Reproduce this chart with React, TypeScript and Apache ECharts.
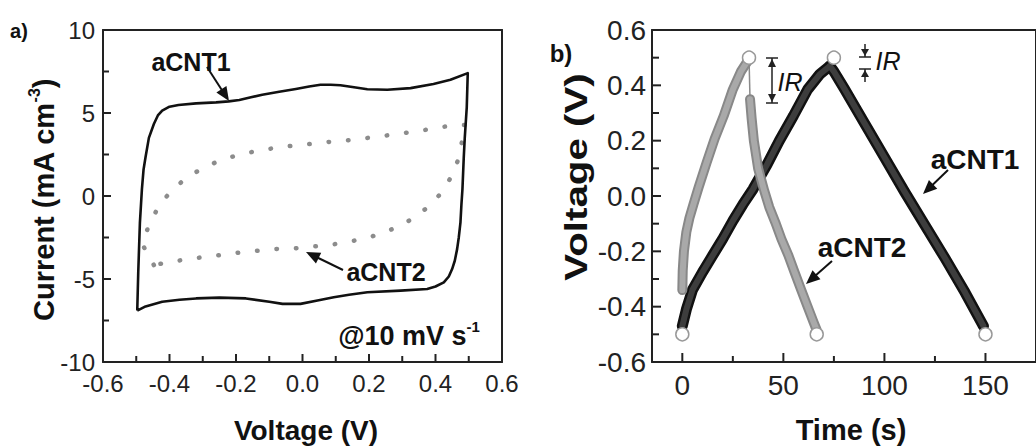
import React, { useEffect, useRef } from "react";
import * as echarts from "echarts";

// ---------- Panel a: cyclic voltammetry (Voltage V, Current mA cm^-3) ----------
const cv1Voltage = [
  -0.497, -0.494, -0.489, -0.483, -0.478, -0.472, -0.462, -0.447, -0.435, -0.422, -0.4, -0.373,
  -0.32, -0.26, -0.222, -0.19, -0.155, -0.121, -0.07, -0.02, 0.02, 0.054, 0.085, 0.114, 0.155,
  0.195, 0.255, 0.325, 0.394, 0.445, 0.497,
  0.494, 0.488, 0.485, 0.481, 0.478, 0.475, 0.47, 0.465, 0.458, 0.45, 0.44, 0.425, 0.4, 0.375,
  0.295, 0.195, 0.14, 0.094, 0.045, -0.006, -0.06, -0.1, -0.17, -0.25, -0.32, -0.37, -0.422,
  -0.472, -0.497,
];
const cv1Current = [
  -6.9, -4.6, -1.6, 0.4, 1.6, 2.35, 3.5, 4.34, 4.85, 5.14, 5.38, 5.48,
  5.58, 5.64, 5.7, 5.78, 5.95, 6.1, 6.28, 6.45, 6.6, 6.7, 6.7, 6.67, 6.55,
  6.43, 6.4, 6.5, 6.75, 7.0, 7.4,
  5.34, 3.5, 2.33, 0.4, -0.5, -1.6, -2.5, -3.2, -3.9, -4.4, -4.85, -5.2, -5.45, -5.6,
  -5.7, -5.8, -5.95, -6.1, -6.3, -6.5, -6.5, -6.37, -6.17, -6.12, -6.17, -6.25, -6.37,
  -6.65, -6.9,
];
const cv2Voltage = [
  -0.447, -0.482, -0.462, -0.435, -0.4, -0.354, -0.3, -0.244, -0.184, -0.121, -0.059, 0.002,
  0.062, 0.124, 0.184, 0.247, 0.308, 0.368, 0.428, 0.49,
  0.468, 0.445, 0.415, 0.37, 0.317, 0.26, 0.201, 0.142, 0.082, 0.039, -0.021, -0.081, -0.141,
  -0.2, -0.264, -0.325, -0.385, -0.447,
];
const cv2Current = [
  -4.16, -2.9, -1.75, -0.72, 0.2, 1.02, 1.69, 2.17, 2.53, 2.77, 2.97, 3.09,
  3.23, 3.33, 3.47, 3.63, 3.8, 3.98, 4.18, 4.28,
  2.17, 1.08, 0.12, -0.78, -1.53, -2.09, -2.49, -2.75, -2.95, -3.03, -3.15, -3.19, -3.31,
  -3.43, -3.6, -3.75, -3.93, -4.16,
];

// ---------- Panel b: galvanostatic charge / discharge (Time s, Voltage V) ----------
const gcd1ChargeTime = [0, 2, 5, 10, 15, 20, 25, 30, 35, 42, 48, 55, 62, 68, 73];
const gcd1ChargeVolt = [-0.47, -0.41, -0.34, -0.275, -0.215, -0.155, -0.09, -0.03, 0.025, 0.115, 0.2, 0.29, 0.385, 0.44, 0.47];
const gcd1DischargeTime = [73, 75, 80, 90, 100, 110, 120, 130, 140, 149];
const gcd1DischargeVolt = [0.47, 0.45, 0.39, 0.265, 0.14, 0.015, -0.105, -0.225, -0.35, -0.47];

const gcd2ChargeTime = [0, 0.2, 0.8, 2, 3.5, 5.5, 8, 12, 16, 20.5, 25, 29, 32.5];
const gcd2ChargeVolt = [-0.34, -0.27, -0.2, -0.13, -0.08, -0.03, 0.03, 0.12, 0.207, 0.29, 0.385, 0.45, 0.49];
const gcd2IrTime = [33, 33.5];
const gcd2IrVolt = [0.5, 0.35];
const gcd2DischargeTime = [33.5, 34.3, 35.4, 37.5, 40.5, 43, 46, 49, 52.5, 55.5, 58.7, 62, 65, 66.5];
const gcd2DischargeVolt = [0.35, 0.28, 0.2, 0.1, 0.02, -0.04, -0.095, -0.155, -0.215, -0.275, -0.337, -0.4, -0.457, -0.485];

const markerTime = [0, 33, 66.5, 75, 150];
const markerVolt = [-0.5, 0.5, -0.5, 0.5, -0.5];

// ---------- Tick values ----------
const voltageMajorTicks = [-0.6, -0.4, -0.2, 0, 0.2, 0.4, 0.6];
const voltageMinorTicks = [-0.5, -0.3, -0.1, 0.1, 0.3, 0.5];
const currentMajorTicks = [-10, -5, 0, 5, 10];
const currentMinorTicks = [-7.5, -2.5, 2.5, 7.5];
const timeMajorTicks = [0, 50, 100, 150];
const timeMinorTicks = [25, 75, 125];

const pairs = (xs: number[], ys: number[]) => xs.map((x, i) => [x, ys[i]]);

const FONT = "'Liberation Sans', Arial, sans-serif";
const AXIS_COLOR = "#222";

function arrow(x1: number, y1: number, x2: number, y2: number, lw = 2, hl = 14, hw = 12) {
  const dx = x2 - x1, dy = y2 - y1;
  const L = Math.hypot(dx, dy);
  const ux = dx / L, uy = dy / L;
  const bx = x2 - ux * hl, by = y2 - uy * hl;
  const px = -uy, py = ux;
  return [
    { type: "line", shape: { x1, y1, x2: bx + ux * 2, y2: by + uy * 2 }, style: { stroke: "#111", lineWidth: lw }, silent: true },
    {
      type: "polygon",
      shape: { points: [[x2, y2], [bx + (px * hw) / 2, by + (py * hw) / 2], [bx - (px * hw) / 2, by - (py * hw) / 2]] },
      style: { fill: "#111" },
      silent: true,
    },
  ];
}

function irMarker(x: number, yTop: number, yBot: number, outward: boolean) {
  const els: any[] = [];
  const cap = 6;
  const st = { stroke: "#222", lineWidth: 1.5 };
  els.push({ type: "line", shape: { x1: x - cap, y1: yTop, x2: x + cap, y2: yTop }, style: st });
  els.push({ type: "line", shape: { x1: x - cap, y1: yBot, x2: x + cap, y2: yBot }, style: st });
  if (outward) {
    els.push({ type: "line", shape: { x1: x, y1: yTop, x2: x, y2: yBot }, style: st });
    els.push({ type: "polygon", shape: { points: [[x, yTop + 1], [x - 4, yTop + 9], [x + 4, yTop + 9]] }, style: { fill: "#222" } });
    els.push({ type: "polygon", shape: { points: [[x, yBot - 1], [x - 4, yBot - 9], [x + 4, yBot - 9]] }, style: { fill: "#222" } });
  } else {
    els.push({ type: "line", shape: { x1: x, y1: yTop - 13, x2: x, y2: yTop }, style: st });
    els.push({ type: "line", shape: { x1: x, y1: yBot, x2: x, y2: yBot + 13 }, style: st });
    els.push({ type: "polygon", shape: { points: [[x, yTop - 1], [x - 4, yTop - 8], [x + 4, yTop - 8]] }, style: { fill: "#222" } });
    els.push({ type: "polygon", shape: { points: [[x, yBot + 1], [x - 4, yBot + 8], [x + 4, yBot + 8]] }, style: { fill: "#222" } });
  }
  return els;
}

function text(x: number, y: number, t: string, size: number, extra: any = {}, styleExtra: any = {}) {
  return {
    type: "text",
    x,
    y,
    silent: true,
    ...extra,
    style: {
      text: t,
      fontFamily: FONT,
      fontSize: size,
      fontWeight: "bold",
      fill: "#111",
      align: "center",
      verticalAlign: "middle",
      ...styleExtra,
    },
  };
}

const fmt1 = (v: number) => (Math.abs(v) < 1e-9 ? "0.0" : v.toFixed(1));

const lineOnly = (position: string, gridIndex: number, min: number, max: number) => ({
  type: "value",
  gridIndex,
  position,
  min,
  max,
  axisLine: { show: true, onZero: false, lineStyle: { color: AXIS_COLOR, width: 2 } },
  axisTick: { show: false },
  axisLabel: { show: false },
  splitLine: { show: false },
});

type TickSet = { values: number[]; len: number };

// All inward ticks of one panel, drawn as one custom-series group anchored at a single
// in-range data point; every tick position comes from api.coord (the axis scales).
function panelTicks(
  xi: number,
  yi: number,
  anchor: number[],
  xSets: TickSet[],
  ySets: TickSet[],
  xMin: number,
  yMin: number
) {
  return {
    type: "custom",
    xAxisIndex: xi,
    yAxisIndex: yi,
    z: 20,
    data: [anchor],
    renderItem: (_p: any, api: any) => {
      const children: any[] = [];
      xSets.forEach((s) =>
        s.values.forEach((v) => {
          const p = api.coord([v, yMin]);
          children.push({ type: "rect", shape: { x: p[0] - 1, y: p[1] - s.len, width: 2, height: s.len }, style: { fill: AXIS_COLOR } });
        })
      );
      ySets.forEach((s) =>
        s.values.forEach((v) => {
          const p = api.coord([xMin, v]);
          children.push({ type: "rect", shape: { x: p[0], y: p[1] - 1, width: s.len, height: 2 }, style: { fill: AXIS_COLOR } });
        })
      );
      return { type: "group", children };
    },
  };
}

export default function App() {
  const ref = useRef<HTMLDivElement>(null);
  useEffect(() => {
    if (!ref.current) return;
    const chart = echarts.init(ref.current, undefined, { renderer: "svg" });

    const baseAxis = {
      type: "value",
      axisLine: { show: true, onZero: false, lineStyle: { color: AXIS_COLOR, width: 2 } },
      axisTick: { show: false },
      splitLine: { show: false },
    };

    const option: any = {
      animation: false,
      grid: [
        { left: 103, top: 30, width: 399, height: 332, show: false },
        { left: 652, top: 30, width: 408, height: 332, show: false },
      ],
      xAxis: [
        {
          ...baseAxis,
          gridIndex: 0,
          min: -0.6,
          max: 0.6,
          interval: 0.2,
          axisLabel: { fontFamily: FONT, fontSize: 24, color: "#222", margin: 9, formatter: fmt1 },
        },
        lineOnly("top", 0, -0.6, 0.6),
        {
          ...baseAxis,
          gridIndex: 1,
          min: -15,
          max: 175,
          axisLabel: { fontFamily: FONT, fontSize: 28, color: "#222", margin: 9, customValues: timeMajorTicks },
        },
        lineOnly("top", 1, -15, 175),
      ],
      yAxis: [
        {
          ...baseAxis,
          gridIndex: 0,
          min: -10,
          max: 10,
          interval: 5,
          axisLabel: { fontFamily: FONT, fontSize: 24, color: "#222", margin: 8 },
        },
        lineOnly("right", 0, -10, 10),
        {
          ...baseAxis,
          gridIndex: 1,
          min: -0.6,
          max: 0.6,
          interval: 0.2,
          axisLabel: { fontFamily: FONT, fontSize: 28, color: "#222", margin: 6, formatter: fmt1 },
        },
        lineOnly("right", 1, -0.6, 0.6),
      ],
      series: [
        panelTicks(
          0,
          0,
          [0, 0],
          [
            { values: voltageMajorTicks, len: 8 },
            { values: voltageMinorTicks, len: 6 },
          ],
          [
            { values: currentMajorTicks, len: 8 },
            { values: currentMinorTicks, len: 6 },
          ],
          -0.6,
          -10
        ),
        panelTicks(
          2,
          2,
          [75, 0],
          [
            { values: timeMajorTicks, len: 9 },
            { values: timeMinorTicks, len: 6 },
          ],
          [
            { values: voltageMajorTicks, len: 9 },
            { values: voltageMinorTicks, len: 7 },
          ],
          -15,
          -0.6
        ),
        {
          name: "aCNT1 CV",
          type: "line",
          xAxisIndex: 0,
          yAxisIndex: 0,
          data: pairs(cv1Voltage, cv1Current),
          showSymbol: false,
          lineStyle: { color: "#111", width: 2.6, join: "round" },
          z: 3,
        },
        {
          name: "aCNT2 CV",
          type: "line",
          xAxisIndex: 0,
          yAxisIndex: 0,
          data: pairs(cv2Voltage, cv2Current),
          showSymbol: false,
          lineStyle: { color: "#8c8c8c", width: 4.5, type: [0.5, 19], cap: "round" },
          z: 2,
        },
        ...[
          { w: 11, c: "#111" },
          { w: 6, c: "#3d3d3d" },
        ].flatMap((s, k) => [
          {
            name: "aCNT1 charge",
            type: "line",
            xAxisIndex: 2,
            yAxisIndex: 2,
            data: pairs(gcd1ChargeTime, gcd1ChargeVolt),
            showSymbol: false,
            lineStyle: { color: s.c, width: s.w, cap: "round", join: "round" },
            z: 3 + k,
          },
          {
            name: "aCNT1 discharge",
            type: "line",
            xAxisIndex: 2,
            yAxisIndex: 2,
            data: pairs(gcd1DischargeTime, gcd1DischargeVolt),
            showSymbol: false,
            lineStyle: { color: s.c, width: s.w, cap: "round", join: "round" },
            z: 3 + k,
          },
        ]),
        {
          name: "aCNT2 IR drop",
          type: "line",
          xAxisIndex: 2,
          yAxisIndex: 2,
          data: pairs(gcd2IrTime, gcd2IrVolt),
          showSymbol: false,
          lineStyle: { color: "#8a8a8a", width: 1.5 },
          z: 5,
        },
        ...[
          { w: 10, c: "#888" },
          { w: 6, c: "#a9a9a9" },
        ].flatMap((s, k) => [
          {
            name: "aCNT2 charge",
            type: "line",
            xAxisIndex: 2,
            yAxisIndex: 2,
            data: pairs(gcd2ChargeTime, gcd2ChargeVolt),
            showSymbol: false,
            lineStyle: { color: s.c, width: s.w, cap: "round", join: "round" },
            z: 6 + k,
          },
          {
            name: "aCNT2 discharge",
            type: "line",
            xAxisIndex: 2,
            yAxisIndex: 2,
            data: pairs(gcd2DischargeTime, gcd2DischargeVolt),
            showSymbol: false,
            lineStyle: { color: s.c, width: s.w, cap: "round", join: "round" },
            z: 6 + k,
          },
        ]),
        {
          name: "markers",
          type: "scatter",
          xAxisIndex: 2,
          yAxisIndex: 2,
          data: pairs(markerTime, markerVolt),
          symbol: "circle",
          symbolSize: 13,
          itemStyle: { color: "#fff", borderColor: "#999", borderWidth: 1.5, opacity: 1 },
          z: 10,
        },
      ],
      graphic: [
        text(19, 31, "a)", 20),
        text(561, 53, "b)", 24),
        text(306, 430, "Voltage (V)", 28),
        text(851, 430, "Time (s)", 29),
        {
          type: "text",
          x: 42,
          y: 200,
          rotation: Math.PI / 2,
          silent: true,
          style: {
            text: "{m|Current (mA cm}{s|-3}{m|)}",
            align: "center",
            verticalAlign: "middle",
            rich: {
              m: { fontFamily: FONT, fontSize: 29, fontWeight: "bold", fill: "#111", lineHeight: 32, verticalAlign: "bottom" },
              s: { fontFamily: FONT, fontSize: 16, fontWeight: "bold", fill: "#111", lineHeight: 32, verticalAlign: "top" },
            },
          },
        },
        text(576, 177, "Voltage (V)", 31, { rotation: Math.PI / 2, scaleX: 1.3 }),
        text(191, 62, "aCNT1", 25),
        ...arrow(207, 67, 229, 101),
        text(386, 272, "aCNT2", 25),
        ...arrow(343, 270, 306, 252),
        {
          type: "text",
          x: 409,
          y: 334,
          silent: true,
          style: {
            text: "{m|@10 mV s}{s|-1}",
            align: "center",
            verticalAlign: "middle",
            rich: {
              m: { fontFamily: FONT, fontSize: 27, fontWeight: "bold", fill: "#111", lineHeight: 30, verticalAlign: "bottom" },
              s: { fontFamily: FONT, fontSize: 15, fontWeight: "bold", fill: "#111", lineHeight: 30, verticalAlign: "top" },
            },
          },
        },
        text(975, 159, "aCNT1", 28),
        ...arrow(948, 170, 923, 194),
        text(862, 247, "aCNT2", 28),
        ...arrow(832, 261, 806, 284),
        ...irMarker(772, 58, 103, true),
        text(790, 82, "IR", 25, {}, { fontStyle: "italic", fontWeight: "normal" }),
        ...irMarker(865, 57, 69, false),
        text(888, 61, "IR", 25, {}, { fontStyle: "italic", fontWeight: "normal" }),
      ],
    };

    chart.setOption(option);
    return () => chart.dispose();
  }, []);

  return <div ref={ref} style={{ position: "fixed", left: 0, top: 0, width: 1036, height: 446, background: "#fff" }} />;
}
